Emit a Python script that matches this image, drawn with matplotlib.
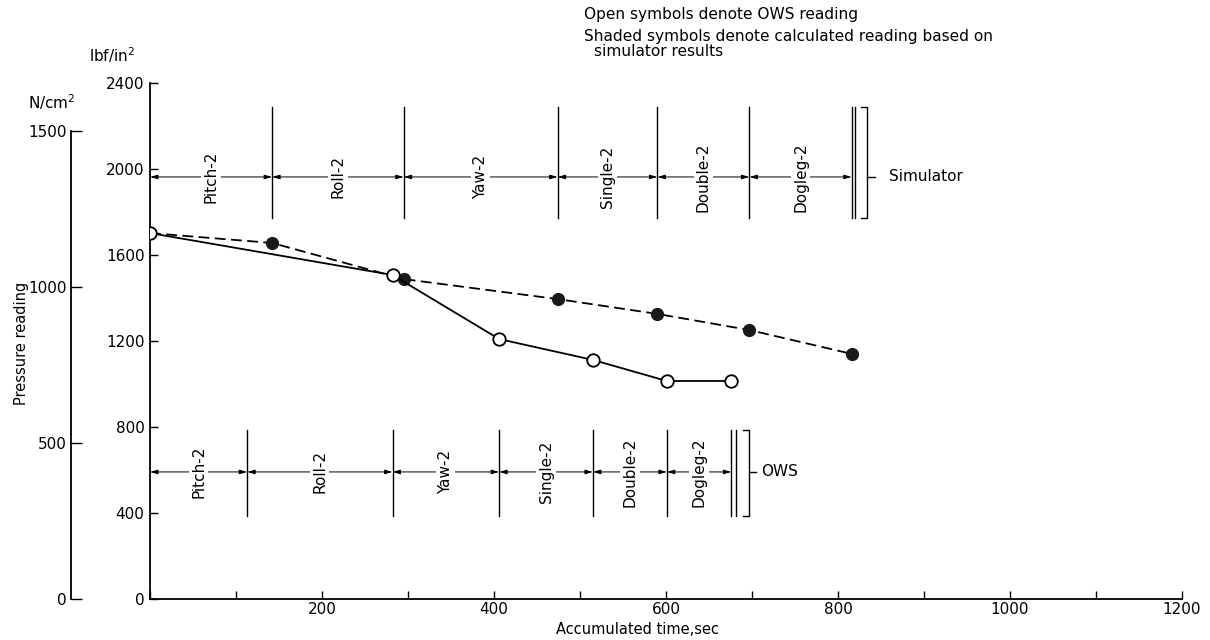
import matplotlib
matplotlib.use('Agg')
import matplotlib.pyplot as plt
from matplotlib.ticker import FixedLocator, MultipleLocator

plt.rcParams['font.family'] = ['DejaVu Sans']

# ---------------- data ----------------
ows_time = [0, 282, 406, 515, 601, 676]
ows_pressure = [1702, 1507, 1209, 1112, 1014, 1014]
sim_time = [0, 142, 295, 474, 590, 697, 816]
sim_pressure = [1702, 1656, 1488, 1395, 1326, 1251, 1140]

maneuvers = ['Pitch-2', 'Roll-2', 'Yaw-2', 'Single-2', 'Double-2', 'Dogleg-2']
sim_bounds = [0, 142, 295, 474, 590, 697, 816]
ows_bounds = [0, 113, 282, 406, 515, 601, 676]

x_ticks = [200, 400, 600, 800, 1000, 1200]
lbf_ticks = [0, 400, 800, 1200, 1600, 2000, 2400]
ncm_ticks = [0, 500, 1000, 1500]
LBF_TO_NCM = 0.6895

# ---------------- layout ----------------
W, H = 1210, 640
fig = plt.figure(figsize=(W / 100, H / 100), dpi=100)
ax_l, ax_r, ax_b, ax_t = 150, 1182, 599, 83
ax = fig.add_axes([ax_l / W, 1 - ax_b / H, (ax_r - ax_l) / W, (ax_b - ax_t) / H])

ax.set_xlim(0, 1200)
ax.set_ylim(0, 2400)
for s in ['top', 'right']:
    ax.spines[s].set_visible(False)
for s in ['left', 'bottom']:
    ax.spines[s].set_linewidth(1.3)
ax.xaxis.set_major_locator(FixedLocator(x_ticks))
ax.xaxis.set_minor_locator(MultipleLocator(100))
ax.yaxis.set_major_locator(FixedLocator(lbf_ticks))
ax.tick_params(axis='both', which='both', direction='in', length=6, width=1.0,
               labelsize=11)
ax.tick_params(axis='x', pad=2.5)
ax.tick_params(axis='y', pad=4)

# outer N/cm^2 axis
ax2 = ax.twinx()
ax2.set_ylim(0, 2400 * LBF_TO_NCM)
ax2.yaxis.tick_left()
ax2.yaxis.set_major_locator(FixedLocator(ncm_ticks))
for s in ['top', 'right', 'bottom']:
    ax2.spines[s].set_visible(False)
ax2.spines['left'].set_position(('axes', (71 - ax_l) / (ax_r - ax_l)))
ax2.spines['left'].set_bounds(0, 1500)
ax2.spines['left'].set_linewidth(1.3)
ax2.tick_params(axis='y', which='both', direction='in', length=8, width=1.0,
                labelsize=11, pad=3)

# ---------------- data lines ----------------
ax.plot(sim_time, sim_pressure, color='black', lw=1.3, ls=(0, (6, 3)),
        marker='o', ms=8.5, mfc='#1a1a1a', mec='#1a1a1a', zorder=3)
ax.plot(ows_time, ows_pressure, color='black', lw=1.3, ls='-',
        marker='o', ms=9, mfc='white', mec='black', mew=1.3, zorder=4)

# ---------------- maneuver bands ----------------
def band(bounds, top, bot, yarr, name, br_off, end_gap, name_off):
    for b in bounds[1:]:
        ax.plot([b, b], [bot, top], color='black', lw=1.0, zorder=2)
    ax.plot([bounds[-1] + end_gap] * 2, [bot, top], color='black', lw=1.0, zorder=2)
    for i, lab in enumerate(maneuvers):
        a, b = bounds[i], bounds[i + 1]
        ax.annotate('', xy=(b, yarr), xytext=(a, yarr),
                    arrowprops=dict(arrowstyle='<|-|>,head_length=0.45,head_width=0.13',
                                    lw=0.7, color='black', shrinkA=0, shrinkB=0),
                    zorder=2)
        ax.text((a + b) / 2, yarr, lab, rotation=90, ha='center', va='center',
                fontsize=11, zorder=3,
                bbox=dict(fc='white', ec='none', pad=1.5))
    bx = bounds[-1] + br_off
    ax.plot([bx - 7, bx, bx, bx - 7], [top, top, bot, bot], color='black', lw=1.0)
    ax.plot([bx, bx + 9], [yarr, yarr], color='black', lw=1.0)
    ax.text(bx + name_off, yarr, name, ha='left', va='center', fontsize=11)

band(sim_bounds, 2290, 1772, 1963, 'Simulator', 18, 4, 25)
band(ows_bounds, 784, 384, 591, 'OWS', 20, 5, 15)

# ---------------- texts ----------------
fig.text(22 / W, 1 - 343 / H, 'Pressure reading', rotation=90, ha='center',
         va='center', fontsize=10.5)
fig.text(52 / W, 1 - 102 / H, 'N/cm$^2$', ha='center', va='center', fontsize=11)
fig.text(112 / W, 1 - 55 / H, 'lbf/in$^2$', ha='center', va='center', fontsize=11)
fig.text(638 / W, 1 - 629 / H, 'Accumulated time,sec', ha='center', va='center',
         fontsize=10.5)
fig.text(584 / W, 1 - 19 / H, 'Open symbols denote OWS reading', ha='left',
         va='baseline', fontsize=11.1)
fig.text(584 / W, 1 - 41 / H, 'Shaded symbols denote calculated reading based on',
         ha='left', va='baseline', fontsize=11.1)
fig.text(594 / W, 1 - 56 / H, 'simulator results', ha='left', va='baseline',
         fontsize=11.1)

fig.savefig('out.png', dpi=100)
